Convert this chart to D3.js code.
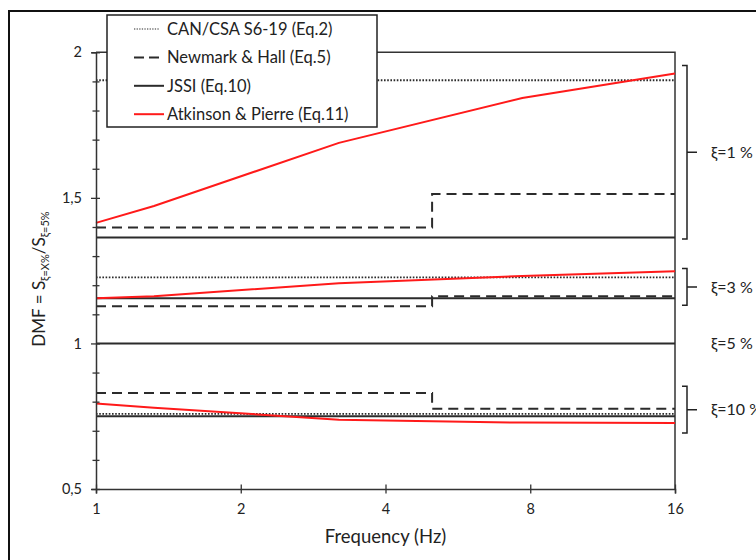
<!DOCTYPE html>
<html>
<head>
<meta charset="utf-8">
<script src="https://cdn.jsdelivr.net/npm/d3@7"></script>
<style>
  html, body { margin: 0; padding: 0; background: #fff; }
  svg { display: block; font-family: Lato, "Open Sans", sans-serif; }
</style>
</head>
<body>
<svg id="chart" width="756" height="560"></svg>
<script>
// Damping modification factor vs frequency, for damping ratios 1 %, 3 % and 10 %
const dampingLabels = ["ξ=1 %", "ξ=3 %", "ξ=5 %", "ξ=10 %"];
const xTickValues = [1, 2, 4, 8, 16];
const yTickValues = [0.5, 1, 1.5, 2];
const yMinorTicks = [0.6, 0.7, 0.8, 0.9, 1.1, 1.2, 1.3, 1.4, 1.6, 1.7, 1.8, 1.9];

// CAN/CSA S6-19 (Eq.2), constant with frequency (ξ = 1, 3, 10 %)
const csaValues = [1.904, 1.227, 0.758];
// Newmark & Hall (Eq.5): one value below the break frequency, one above
const nhBreakFreq = 5;
const nhLow = [1.398, 1.128, 0.830];
const nhHigh = [1.513, 1.162, 0.776];
// JSSI (Eq.10), constant with frequency
const jssiValues = [1.364, 1.155, 0.75];
// Reference damping ξ = 5 %
const refValue = 1;
// Atkinson & Pierre (Eq.11), frequency dependent
const apFreq = [1, 1.32, 3.2, 7.7, 16];
const ap1 = [1.414, 1.472, 1.689, 1.843, 1.927];
const ap3 = [1.155, 1.162, 1.207, 1.232, 1.248];
const ap10 = [0.794, 0.779, 0.738, 0.728, 0.727];
// Extent of each damping group bracket (DMF values)
const braceTop = [1.955, 1.257, 0.853];
const braceBottom = [1.359, 1.131, 0.692];

const legendLabels = ["CAN/CSA S6-19 (Eq.2)", "Newmark & Hall (Eq.5)", "JSSI (Eq.10)", "Atkinson & Pierre (Eq.11)"];

const svg = d3.select("#chart");
const fMin = 1, fMax = 16;

const x = d3.scaleLog().base(2).domain([fMin, fMax]).range([96, 675]);
const y = d3.scaleLinear().domain([0.5, 2]).range([489, 52.3]);

const axisColor = "#333";
const lineDark = "#2b2b2b";
const red = "#ff1a1a";

// outer frame
svg.append("rect")
  .attr("x", 9).attr("y", 11).attr("width", 760).attr("height", 560)
  .attr("fill", "none").attr("stroke", "#111").attr("stroke-width", 2);

// plot box (top and right edges)
svg.append("path")
  .attr("d", `M${x(fMin)},${y(2)}H${x(fMax)}V${y(0.5)}`)
  .attr("fill", "none").attr("stroke", axisColor).attr("stroke-width", 1.5);

const line = d3.line().x(d => x(d[0])).y(d => y(d[1]));

const styles = {
  csa: { stroke: lineDark, width: 1.9, dash: "1.6,1.6" },
  nh: { stroke: lineDark, width: 2, dash: "10,6" },
  jssi: { stroke: lineDark, width: 2, dash: null },
  ap: { stroke: red, width: 2, dash: null }
};

function drawSeries(points, st) {
  svg.append("path")
    .attr("d", line(points))
    .attr("fill", "none")
    .attr("stroke", st.stroke)
    .attr("stroke-width", st.width)
    .attr("stroke-dasharray", st.dash);
}

// ξ = 5 % reference line
drawSeries([[fMin, refValue], [fMax, refValue]], styles.jssi);

[0, 1, 2].forEach(i => {
  drawSeries([[fMin, jssiValues[i]], [fMax, jssiValues[i]]], styles.jssi);
  drawSeries([[fMin, nhLow[i]], [nhBreakFreq, nhLow[i]], [nhBreakFreq, nhHigh[i]], [fMax, nhHigh[i]]], styles.nh);
  drawSeries([[fMin, csaValues[i]], [fMax, csaValues[i]]], styles.csa);
});
[ap1, ap3, ap10].forEach(vals => {
  drawSeries(apFreq.map((f, j) => [f, vals[j]]), styles.ap);
});

// axes
const xAxis = svg.append("g")
  .attr("transform", `translate(0,${y(0.5)})`)
  .call(d3.axisBottom(x).tickValues(xTickValues).tickFormat(d3.format("d")).tickSize(4.5));
xAxis.select(".domain").attr("stroke", axisColor).attr("stroke-width", 1.5);
xAxis.selectAll(".tick line").attr("y1", -4.5).attr("y2", 4.5).attr("stroke", axisColor).attr("stroke-width", 1.3);
xAxis.selectAll(".tick text").attr("y", 15).attr("dy", "0.71em")
  .attr("font-size", 14.5).attr("fill", "#222").attr("font-family", "Lato, sans-serif");

const yAxis = svg.append("g")
  .attr("transform", `translate(${x(fMin)},0)`)
  .call(d3.axisLeft(y).tickValues(yTickValues).tickFormat(d => String(d).replace(".", ",")).tickSize(4.5));
yAxis.select(".domain").attr("stroke", axisColor).attr("stroke-width", 1.5);
yAxis.selectAll(".tick line").attr("x1", -5).attr("x2", 4).attr("stroke", axisColor).attr("stroke-width", 1.3);
yAxis.selectAll(".tick text").attr("x", -14)
  .attr("font-size", 14.5).attr("fill", "#222").attr("font-family", "Lato, sans-serif");

const yMinor = svg.append("g")
  .attr("transform", `translate(${x(fMin)},0)`)
  .call(d3.axisLeft(y).tickValues(yMinorTicks).tickFormat("").tickSize(3.5));
yMinor.select(".domain").remove();
yMinor.selectAll(".tick line").attr("x1", -3.5).attr("x2", 3.5).attr("stroke", axisColor).attr("stroke-width", 1.3);

// axis titles
svg.append("text")
  .attr("x", (x(fMin) + x(fMax)) / 2).attr("y", 543)
  .attr("text-anchor", "middle").attr("font-size", 18.5).attr("fill", "#222")
  .text("Frequency (Hz)");

const yTitle = svg.append("text")
  .attr("transform", "translate(45,279) rotate(-90)")
  .attr("text-anchor", "middle").attr("font-size", 17).attr("fill", "#222");
yTitle.append("tspan").text("DMF = S");
yTitle.append("tspan").attr("font-size", 11).attr("dy", 4).text("ξ=X%");
yTitle.append("tspan").attr("dy", -4).text("/S");
yTitle.append("tspan").attr("font-size", 11).attr("dy", 4).text("ξ=5%");

// damping group brackets
const bx = 687;
[0, 1, 2].forEach(i => {
  const t = y(braceTop[i]), b = y(braceBottom[i]), m = (t + b) / 2;
  svg.append("path")
    .attr("d", `M${bx - 5},${t}H${bx}V${b}H${bx - 5}M${bx},${m}H${bx + 10}`)
    .attr("fill", "none").attr("stroke", "#222").attr("stroke-width", 1.5);
});
const labelY = [ (y(braceTop[0]) + y(braceBottom[0])) / 2,
                 (y(braceTop[1]) + y(braceBottom[1])) / 2,
                 y(refValue),
                 (y(braceTop[2]) + y(braceBottom[2])) / 2 ];
dampingLabels.forEach((lab, i) => {
  svg.append("text")
    .attr("x", 711).attr("y", labelY[i]).attr("dy", "0.35em")
    .attr("font-size", 16).attr("fill", "#222")
    .text(lab);
});

// legend
const lg = svg.append("g");
lg.append("rect")
  .attr("x", 107).attr("y", 15).attr("width", 270).attr("height", 112)
  .attr("fill", "#fff").attr("stroke", "#222").attr("stroke-width", 1.5);
const legendStyles = [
  { st: styles.csa, dash: "1.3,1.3", width: 1.2, x2: 160 },
  { st: styles.nh, dash: "10,5", width: 2, x2: 164 },
  { st: styles.jssi, dash: null, width: 2, x2: 164 },
  { st: styles.ap, dash: null, width: 2, x2: 164 }
];
legendLabels.forEach((lab, i) => {
  const cy = 29 + i * 28.4;
  const ls = legendStyles[i];
  lg.append("line")
    .attr("x1", 134).attr("x2", ls.x2).attr("y1", cy).attr("y2", cy)
    .attr("stroke", ls.st.stroke).attr("stroke-width", ls.width)
    .attr("stroke-dasharray", ls.dash);
  lg.append("text")
    .attr("x", 167).attr("y", cy).attr("dy", "0.35em")
    .attr("font-size", 16.5).attr("fill", "#222")
    .text(lab);
});
</script>
</body>
</html>
